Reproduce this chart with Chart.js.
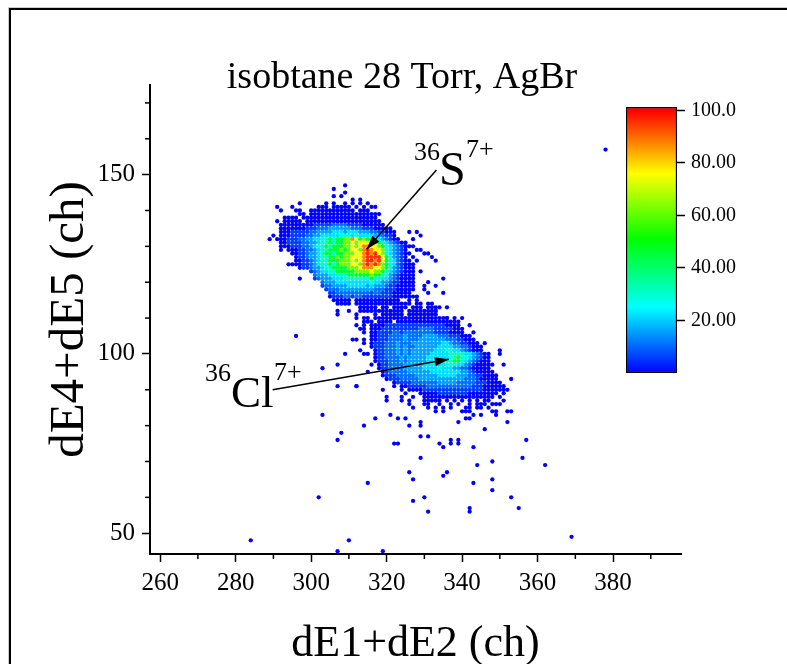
<!DOCTYPE html>
<html>
<head>
<meta charset="utf-8">
<style>
  html, body { margin: 0; background: #fff; overflow: hidden; }
  #frame { position: absolute; left: 9px; top: 8px; width: 800px; height: 700px; border-left: 2px solid #000; border-top: 2px solid #000; box-shadow: -1px -1px 0 #ccc; }
  #main { position: absolute; left: 0; top: 0; }
  #bar { position: absolute; left: 620px; top: 97px; }
</style>
<script src="https://cdn.jsdelivr.net/npm/chart.js@4"></script>
</head>
<body>
<div id="frame"></div>
<canvas id="main" width="787" height="664"></canvas>
<canvas id="bar" width="140" height="286"></canvas>
<script>
// density map: [y channel, first x channel, one digit per x channel]
// digit = index into levelValues (hex, a = orange), '.' = empty cell
const levelValues = [0, 6, 11, 16, 22, 30, 45, 62, 76, 96, 87];
const densityRows = [
  [147, 309, "0"],
  [146, 306, "0"],
  [145, 309, "0"],
  [144, 306, "0.0"],
  [143, 311, "0.0"],
  [142, 297, "0......0.0..0.0.0.0"],
  [141, 291, "0...0......000.00000.0.0.00"],
  [140, 292, "0...00..000000000000.000"],
  [139, 297, "00.0000000000000000000"],
  [138, 293, "0000.00000000000000000000"],
  [137, 291, "0.00000.00000000000000000000"],
  [136, 292, "000000000111112222111100" + "0000"],
  [135, 292, "0000000" + "11122233333322211" + "100000"],
  [134, 292, "0001111" + "12233" + "33444344433" + "3221" + "1000"],
  [133, 290, "0.0001111" + "22334" + "44445554544" + "4433" + "2110"],
  [132, 289, "0.00011122" + "33445" + "5656677a867" + "6654" + "32100"],
  [131, 292, "0011112" + "23345" + "56566778788" + "8776" + "5432100"],
  [130, 292, "0001112" + "23455" + "6566677878a" + "a887" + "6543210" + "0"],
  [129, 292, "0.00011" + "22345" + "5666767887a" + "9a88" + "7543210"],
  [128, 295, "0011" + "23345" + "6656677788a" + "9a98" + "7543210" + "0"],
  [127, 296, "011" + "23345" + "5667677888a" + "9999" + "8653210"],
  [126, 296, "001" + "12345" + "5666777878a" + "99a9" + "8654210" + "0"],
  [125, 294, "00001" + "12345" + "5656777887a" + "9a9a" + "7654210" + "00"],
  [124, 297, "01" + "12334" + "5566667778a" + "aa88" + "7653210" + "00"],
  [123, 300, "1234" + "45566666777" + "7877" + "6543210" + "00"],
  [122, 301, "233" + "34455566666" + "6766" + "5532100" + "00"],
  [121, 301, "123" + "33444555555" + "5655" + "4432100" + "00"],
  [120, 303, "2" + "33344444444" + "4544" + "3321100" + "00"],
  [119, 303, "1" + "22333344444" + "3433" + "3211000" + "00"],
  [118, 304, "12223333333" + "3322" + "2111000" + "00"],
  [117, 305, "1122222222" + "2122" + "1110000" + "0"],
  [116, 305, "01112212211" + "1111" + "1100000" + "00"],
  [115, 306, "00000.000000000000..0.0"],
  [114, 307, "0000.000000000000000.00.0"],
  [113, 313, "00000.00.0000.000.00.0.0"],
  [112, 310, "0..000000000000.00000000"],
  [111, 312, "0....0.000000.00000000"],
  [110, 312, "0.00.00000000000000000000.0.0"],
  [109, 314, "000.0000.00000000000000000"],
  [108, 312, "0.0.000011111111111111110000..0"],
  [107, 314, "0.0" + "001111111111222211111000"],
  [106, 314, "0.0" + "011112212222222211110000" + "..0"],
  [105, 316, "00" + "1112222322223333222111000"],
  [104, 311, "00.0.0" + "011122223222333333322211000"],
  [103, 314, "0.0" + "1112223222333333334432211000" + ".0"],
  [102, 316, "0" + "1112223232233333344443322100" + "0"],
  [101, 313, "0..." + "01122232323333334445544321000" + "....0"],
  [100, 309, "0....00." + "0112223232333334444455554432100" + "..0"],
  [99, 317, "0112222323333344444455655432100"],
  [98, 317, "0111222323333344444556654321000"],
  [97, 316, "0.0" + "112222333334444445554432100000" + "..0"],
  [96, 318, "011222233333444454443322100000"],
  [95, 315, "0..." + "012222233333344444444332100000"],
  [94, 319, "0111222223333334444433322110000"],
  [93, 320, "011122222333333333333222100000" + "...0"],
  [92, 322, "01111222222233333222221110000"],
  [91, 312, "0.........0.0" + "011111222222222222111000000"],
  [90, 319, "0....0.0" + "00011111111111111110000000"],
  [89, 325, "0...000001111111100000000.0"],
  [88, 320, "0...0..0..0000000000000000000.0"],
  [87, 320, "0...0.0...00000.0.0.0.0.0.00...0"],
  [86, 326, "0...00..0..0.0..0.000.000"],
  [85, 327, "0...0.0.0.0...00.00.0"],
  [84, 333, "0.0....000.....00..00"]
];

// isolated points
const strayX = [378, 284, 369, 296, 303, 307, 312, 307, 297, 307, 307, 313,
  326, 328, 329, 327, 325, 327, 328, 329, 330, 331, 332, 333, 327, 328, 329, 335, 331, 330, 330, 331, 333, 335, 332, 333, 333, 336,
  303, 321, 343, 345, 349, 317, 323, 325, 341, 342, 326, 329, 339, 352, 314, 329, 346, 308, 329, 331, 357, 307, 337, 339,
  322, 323, 334, 337, 339, 335, 343, 329, 348, 356, 344, 362, 326, 336, 335, 327, 348, 343, 315, 348, 302, 330, 353, 327,
  342, 342, 355, 331, 310, 307, 319];
const strayY = [157, 48, 49, 105, 96, 91, 91, 97, 121, 112, 111, 107,
  134, 134, 133, 132, 130, 130, 129, 129, 128, 128, 127, 126, 127, 126, 123, 121, 120, 119, 118, 117, 119, 117, 114, 113, 112, 110,
  83, 83, 83, 83, 83, 82, 82, 82, 82, 82, 80, 81, 81, 81, 80, 80, 79, 78, 77, 77, 76, 76, 76, 76,
  75, 75, 75, 75, 75, 74, 74, 71, 70, 71, 69, 69, 67, 67, 66, 65, 65, 64, 64, 62, 60, 60, 60, 59,
  57, 56, 57, 56, 48, 45, 45];

const xTickStep = 10;
const yTickStep = 10;
const barTickStep = 20;
const colorStops = [0, 25, 51, 76, 100];
const colorNames = ['#0000ff', '#00ffff', '#00ff00', '#ffff00', '#ff0000'];
const colorRgb = [[0, 0, 255], [0, 255, 255], [0, 255, 0], [255, 255, 0], [255, 0, 0]];

function colorFor(v) {
  for (let i = 1; i < colorStops.length; i++) {
    if (v <= colorStops[i]) {
      const t = (v - colorStops[i - 1]) / (colorStops[i] - colorStops[i - 1]);
      const a = colorRgb[i - 1], b = colorRgb[i];
      return `rgb(${a.map((c, k) => Math.round(c + (b[k] - c) * t)).join(',')})`;
    }
  }
  return colorNames[colorNames.length - 1];
}

const points = [];
strayX.forEach((x, i) => points.push({ x: x, y: strayY[i], v: 0 }));
densityRows.forEach(([y, start, cells]) => {
  [...cells].forEach((c, i) => {
    if (c !== '.') points.push({ x: start + i, y: y, v: levelValues[parseInt(c, 16)] });
  });
});

const serif = 'Liberation Serif';

// short ticks at the unlabelled steps, the arrows and the two isotope labels
const extras = {
  id: 'extras',
  afterLayout(chart) {
    chart.titleBlock.left = 17;
    chart.titleBlock.right = 787;
  },
  afterDraw(chart) {
    const c = chart.ctx, sx = chart.scales.x, sy = chart.scales.y;
    c.save();
    c.strokeStyle = '#000';
    c.fillStyle = '#000';
    c.lineWidth = 1.5;
    sx.ticks.forEach(t => {
      if (t.value % 20 === 0) return;
      const p = sx.getPixelForValue(t.value);
      c.beginPath(); c.moveTo(p, sx.top); c.lineTo(p, sx.top + 5); c.stroke();
    });
    sy.ticks.forEach(t => {
      if (t.value % 50 === 0) return;
      const p = sy.getPixelForValue(t.value);
      c.beginPath(); c.moveTo(sy.right, p); c.lineTo(sy.right - 5, p); c.stroke();
    });

    const arrow = (x0, y0, x1, y1) => {
      const ax = sx.getPixelForValue(x0), ay = sy.getPixelForValue(y0);
      const bx = sx.getPixelForValue(x1), by = sy.getPixelForValue(y1);
      const a = Math.atan2(by - ay, bx - ax);
      c.lineWidth = 1.5;
      c.beginPath(); c.moveTo(ax, ay); c.lineTo(bx, by); c.stroke();
      c.beginPath();
      c.moveTo(bx, by);
      c.lineTo(bx - 14 * Math.cos(a) + 4.5 * Math.sin(a), by - 14 * Math.sin(a) - 4.5 * Math.cos(a));
      c.lineTo(bx - 14 * Math.cos(a) - 4.5 * Math.sin(a), by - 14 * Math.sin(a) + 4.5 * Math.cos(a));
      c.closePath(); c.fill();
    };
    arrow(333.2, 151.3, 314.7, 129.2);
    arrow(289.8, 90, 336.5, 98.5);

    c.textBaseline = 'alphabetic';
    c.textAlign = 'left';
    c.font = `26px "${serif}"`;
    c.fillText('36', 414, 160);
    c.fillText('7+', 466, 157);
    c.fillText('36', 205, 381);
    c.fillText('7+', 274, 380);
    c.font = `48px "${serif}"`;
    c.fillText('S', 439, 185);
    c.font = `45px "${serif}"`;
    c.fillText('Cl', 231, 407);
    c.restore();
  }
};

new Chart(document.getElementById('main'), {
  type: 'scatter',
  data: {
    datasets: [{
      data: points,
      pointRadius: 2.15,
      pointBorderWidth: 0,
      pointBackgroundColor: ctx => colorFor(ctx.raw.v)
    }]
  },
  plugins: [extras],
  options: {
    responsive: false,
    animation: false,
    layout: { padding: { left: 17, right: 106, top: 0, bottom: 0 } },
    plugins: {
      legend: { display: false },
      tooltip: { enabled: false },
      title: {
        display: true,
        text: 'isobtane 28 Torr, AgBr',
        color: '#000',
        font: { family: serif, size: 38, weight: 'normal', lineHeight: 1 },
        padding: { top: 59, bottom: -12 }
      }
    },
    scales: {
      x: {
        min: 257.3,
        max: 398,
        afterFit: s => { s.height = 110; },
        border: { color: '#000', width: 2 },
        grid: {
          drawOnChartArea: false,
          tickLength: 8,
          tickWidth: 1.5,
          tickColor: ctx => ctx.tick && ctx.tick.value % 20 === 0 ? '#000' : 'rgba(0,0,0,0)'
        },
        ticks: {
          stepSize: xTickStep,
          includeBounds: false,
          autoSkip: false,
          maxRotation: 0,
          color: '#000',
          padding: 6,
          font: { family: serif, size: 25 },
          callback: v => v % 20 === 0 ? String(v) : ''
        },
        title: {
          display: true,
          text: 'dE1+dE2 (ch)',
          color: '#000',
          font: { family: serif, size: 44, lineHeight: 1 },
          padding: { top: 0, bottom: -2 }
        }
      },
      y: {
        min: 44.2,
        max: 175,
        afterFit: s => { s.width = 133; },
        border: { color: '#000', width: 2 },
        grid: {
          drawOnChartArea: false,
          tickLength: 8,
          tickWidth: 1.5,
          tickColor: ctx => ctx.tick && ctx.tick.value % 50 === 0 ? '#000' : 'rgba(0,0,0,0)'
        },
        ticks: {
          stepSize: yTickStep,
          includeBounds: false,
          autoSkip: false,
          color: '#000',
          padding: 7,
          font: { family: serif, size: 25 },
          callback: v => v % 50 === 0 ? String(v) : ''
        },
        title: {
          display: true,
          text: 'dE4+dE5 (ch)',
          color: '#000',
          font: { family: serif, size: 49, lineHeight: 1 },
          padding: { top: 29, bottom: 0 }
        }
      }
    }
  }
});

// colour scale
new Chart(document.getElementById('bar'), {
  type: 'bar',
  data: {
    labels: [''],
    datasets: [{
      data: [[0, 101.3]],
      barPercentage: 1,
      categoryPercentage: 1,
      borderWidth: 1.5,
      borderColor: '#000',
      borderSkipped: false,
      backgroundColor: ctx => {
        const a = ctx.chart.chartArea;
        if (!a) return colorNames[0];
        const sy = ctx.chart.scales.y;
        const g = ctx.chart.ctx.createLinearGradient(0, sy.getPixelForValue(0), 0, sy.getPixelForValue(100));
        colorStops.forEach((s, i) => g.addColorStop(s / 100, colorNames[i]));
        return g;
      }
    }]
  },
  options: {
    responsive: false,
    animation: false,
    layout: { padding: { left: 6, right: 0, top: 10, bottom: 10 } },
    plugins: { legend: { display: false }, tooltip: { enabled: false } },
    scales: {
      x: { display: false },
      y: {
        position: 'right',
        min: 0,
        max: 101.3,
        afterBuildTicks: s => { s.ticks = s.ticks.filter(t => t.value > 0); },
        afterFit: s => { s.width = 83; s.paddingTop = 0; s.paddingBottom = 0; },
        border: { display: false },
        grid: { drawOnChartArea: false, tickLength: 8, tickWidth: 1.5, tickColor: '#000' },
        ticks: {
          stepSize: barTickStep,
          includeBounds: false,
          color: '#000',
          padding: 6,
          font: { family: serif, size: 20 },
          callback: v => v === 100 ? '100.0' : v.toFixed(2)
        }
      }
    }
  }
});
</script>
</body>
</html>
